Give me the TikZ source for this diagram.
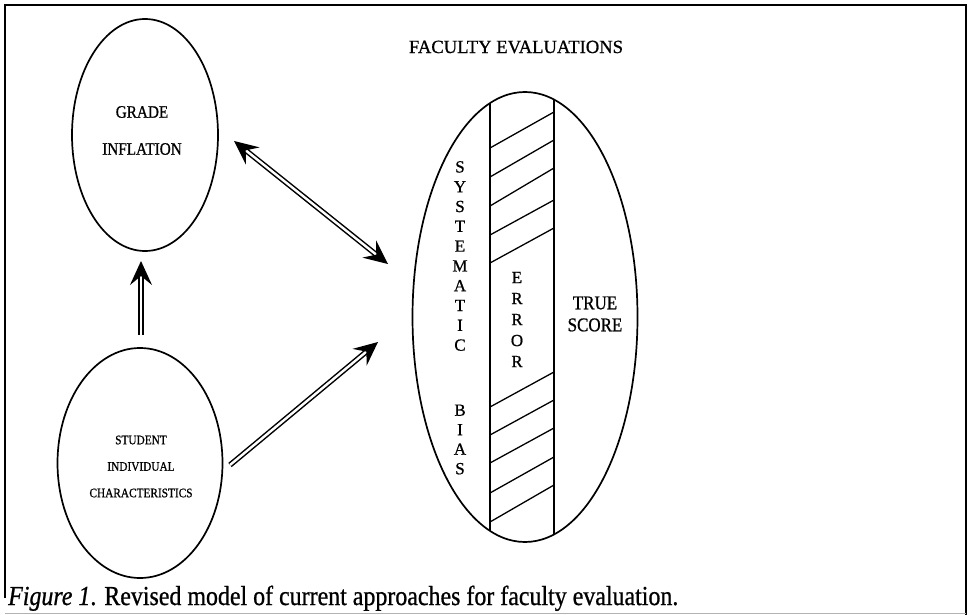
\documentclass[tikz,border=0pt]{standalone}
\usepackage{fontspec}
\setmainfont{Liberation Serif}[FakeBold=0.8]
\newfontfamily\condensed[FakeStretch=0.87,FakeBold=0.8]{Liberation Serif}
\usetikzlibrary{shapes.geometric,arrows.meta}
\begin{document}
\begin{tikzpicture}[x=1pt,y=-1pt,
  oval/.style={draw,ellipse,line width=1.7pt,inner sep=0pt},
  dblarrow/.style={double,line width=1.5pt,double distance=2.4pt},
  lbl/.style={inner sep=0pt,align=center},
  hatch/.style={line width=1.3pt},
  >={Stealth[length=24pt,width=22pt,inset=9pt]},
]
\useasboundingbox (0,0) rectangle (969,615);
% frame
\draw[line width=2.4pt] (5,598) -- (5,5) -- (966,5) -- (966,615);
\draw[line width=0.6pt,black!30] (5,613) -- (966,613);

% ellipses
\node[oval,minimum width=146pt,minimum height=232pt] (grade) at (145,135) {};
\node[oval,minimum width=165pt,minimum height=230pt] (student) at (140,463) {};
\node[oval,minimum width=225pt,minimum height=450pt] (faculty) at (525,317) {};

% columns inside the big ellipse
\begin{scope}
  \clip (525,317) ellipse [x radius=112.5pt, y radius=225pt];
  \draw[line width=1.6pt] (490,0) -- (490,615) (554,0) -- (554,615);
\end{scope}
\foreach \l/\r in {148/112,177/140,206/168,235/200,263/228,407/372,435/400,463/428,493/457,522/485}
  \draw[hatch] (490,\l) -- (554,\r);

% texts
\node[lbl,font=\fontsize{18.6}{20}\selectfont] (title) at (516,47) {FACULTY EVALUATIONS};
\node[lbl,font=\condensed\fontsize{17.5}{37}\selectfont] (gradetxt) at (142,130.5) {GRADE\\INFLATION};
\node[lbl,font=\condensed\fontsize{13}{26.5}\selectfont] (studenttxt) at (141,466.5) {STUDENT\\INDIVIDUAL\\CHARACTERISTICS};
\node[lbl,font=\fontsize{17}{19.8}\selectfont] (systxt) at (460,256) {S\\Y\\S\\T\\E\\M\\A\\T\\I\\C};
\node[lbl,font=\fontsize{17}{19.5}\selectfont] (biastxt) at (460,439.5) {B\\I\\A\\S};
\node[lbl,font=\fontsize{17}{21}\selectfont] (errortxt) at (517,319.5) {E\\R\\R\\O\\R};
\node[lbl,font=\condensed\fontsize{19.5}{22}\selectfont] (truetxt) at (595,314) {TRUE\\SCORE};
\node[anchor=base west,inner sep=0pt,font=\condensed\fontsize{27.5}{30}\selectfont] (caption) at (8,605) {\textit{Figure 1}. Revised model of current approaches for faculty evaluation.};

% arrows
\coordinate (g1) at (234,141);
\coordinate (f1) at (388,264);
\coordinate (s1) at (141,335);
\coordinate (g2) at (141,261);
\coordinate (s2) at (230,465);
\coordinate (f2) at (378,342);
\draw[dblarrow,<->] (g1) -- (f1);
\draw[dblarrow,->] (s1) -- (g2);
\draw[dblarrow,->] (s2) -- (f2);
\end{tikzpicture}
\end{document}
